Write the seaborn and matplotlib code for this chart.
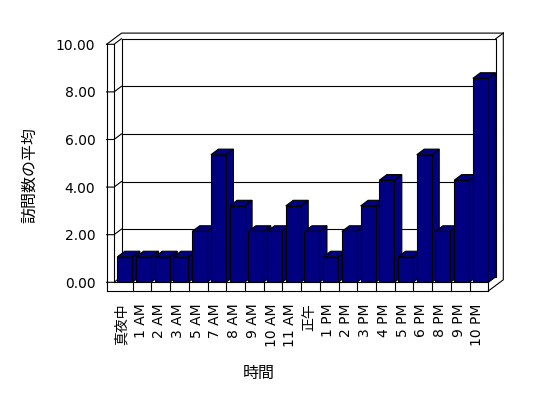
import matplotlib
matplotlib.use("Agg")
import matplotlib.pyplot as plt
from matplotlib.patches import Polygon
from matplotlib.transforms import ScaledTranslation
import seaborn as sns
import pandas as pd

# ---- data ----
categories = ["真夜中", "1 AM", "2 AM", "3 AM", "5 AM", "7 AM", "8 AM", "9 AM",
              "10 AM", "11 AM", "正午", "1 PM", "2 PM", "3 PM", "4 PM", "5 PM",
              "6 PM", "8 PM", "9 PM", "10 PM"]
values = [1.07, 1.07, 1.07, 1.07, 2.14, 5.36, 3.21, 2.14, 2.14, 3.21,
          2.14, 1.07, 2.14, 3.21, 4.29, 1.07, 5.36, 2.14, 4.29, 8.57]
y_ticks = [0, 2, 4, 6, 8, 10]
y_tick_labels = ["0.00", "2.00", "4.00", "6.00", "8.00", "10.00"]
x_title = "時間"
y_title = "訪問数の平均"

sns.set_style("white")
plt.rcParams["font.family"] = ["DejaVu Sans", "Noto Sans CJK JP"]

W, H = 548, 398
fig = plt.figure(figsize=(W / 100, H / 100), dpi=100)
fig.patch.set_facecolor("white")

# front plane in pixels
L, R, B, T_ = 114.0, 488.3, 282.3, 44.3
ax = fig.add_axes([L / W, 1 - B / H, (R - L) / W, (B - T_) / H])
ax.set_facecolor("none")

df = pd.DataFrame({"cat": categories, "val": values})
NAVY = "#000080"
sns.barplot(data=df, x="cat", y="val", order=categories, color=NAVY,
            saturation=1, width=0.8, edgecolor="black", linewidth=0.8,
            errorbar=None, ax=ax)

n = len(categories)
px_per_cat = (R - L) / n
px_per_val = (B - T_) / 10.0
x0 = -0.578
ax.set_xlim(x0, x0 + n)
ax.set_ylim(0, 10)

DX = 7.5 / px_per_cat
DY = 5.6 / px_per_val
TW = 7.4 / px_per_cat      # left wall thickness
F = 8.7 / px_per_val       # floor thickness
xr = x0 + n

lw = 0.8
kw = dict(color="black", lw=lw, clip_on=False, solid_capstyle="projecting")

def line(xs, ys, z=1):
    ax.plot(xs, ys, zorder=z, **kw)

# back wall inner rectangle and gridlines
line([x0 + DX, xr + DX, xr + DX, x0 + DX, x0 + DX],
     [DY, DY, 10 + DY, 10 + DY, DY])
for v in y_ticks[1:-1]:
    line([x0 + DX, xr + DX], [v + DY, v + DY])
# ticks across left wall face + connectors
for v in y_ticks:
    line([x0 - TW, x0, x0 + DX], [v, v, v + DY])
# left wall verticals
line([x0 - TW, x0 - TW], [-F, 10])
line([x0, x0], [0, 10])
# floor
line([x0, xr], [0, 0])
line([xr, xr + DX], [0, DY])
line([x0 - TW, xr], [-F, -F])
for k in range(1, n + 1):
    line([x0 + k, x0 + k], [-F, 0])
# outer frame
line([xr, xr + 2 * DX, xr + 2 * DX], [-F, -F + 2 * DY, 10 + 2 * DY])
line([xr + 2 * DX, x0 - TW + 2 * DX, x0 - TW], [10 + 2 * DY, 10 + 2 * DY, 10])
line([xr + DX, xr + 2 * DX], [10 + DY, 10 + 2 * DY])

# 3D faces for bars
for i, p in enumerate(ax.patches):
    x, w, h = p.get_x(), p.get_width(), p.get_height()
    z = 3 + i * 0.01
    p.set_zorder(z + 0.005)
    side = Polygon([(x + w, 0), (x + w + DX, DY), (x + w + DX, h + DY), (x + w, h)],
                   closed=True, facecolor=NAVY, edgecolor="black", lw=lw,
                   zorder=z, clip_on=False, joinstyle="miter")
    top = Polygon([(x, h), (x + DX, h + DY), (x + w + DX, h + DY), (x + w, h)],
                  closed=True, facecolor=NAVY, edgecolor="black", lw=lw,
                  zorder=z + 0.002, clip_on=False, joinstyle="miter")
    ax.add_patch(side)
    ax.add_patch(top)

for s in ax.spines.values():
    s.set_visible(False)

ax.set_yticks(y_ticks)
ax.set_yticklabels(y_tick_labels)
ax.set_xticks(range(n))
ax.set_xticklabels(categories, rotation=90, ha="center", va="top")
ax.tick_params(axis="y", length=0, pad=13.5, labelsize=10, colors="black")
ax.tick_params(axis="x", length=0, pad=15, labelsize=10, colors="black")
shift = ScaledTranslation(-3 / 100, 0, fig.dpi_scale_trans)
for lab in ax.get_xticklabels():
    lab.set_transform(lab.get_transform() + shift)

ax.set_xlabel(x_title, fontsize=11.5, color="black")
ax.set_ylabel(y_title, fontsize=11.5, color="black")
ax.xaxis.set_label_coords((259 - L) / (R - L), (B - 366) / (B - T_))
ax.yaxis.set_label_coords((37 - L) / (R - L), (B - 175) / (B - T_))

fig.savefig("out.png", dpi=100, facecolor="white")
